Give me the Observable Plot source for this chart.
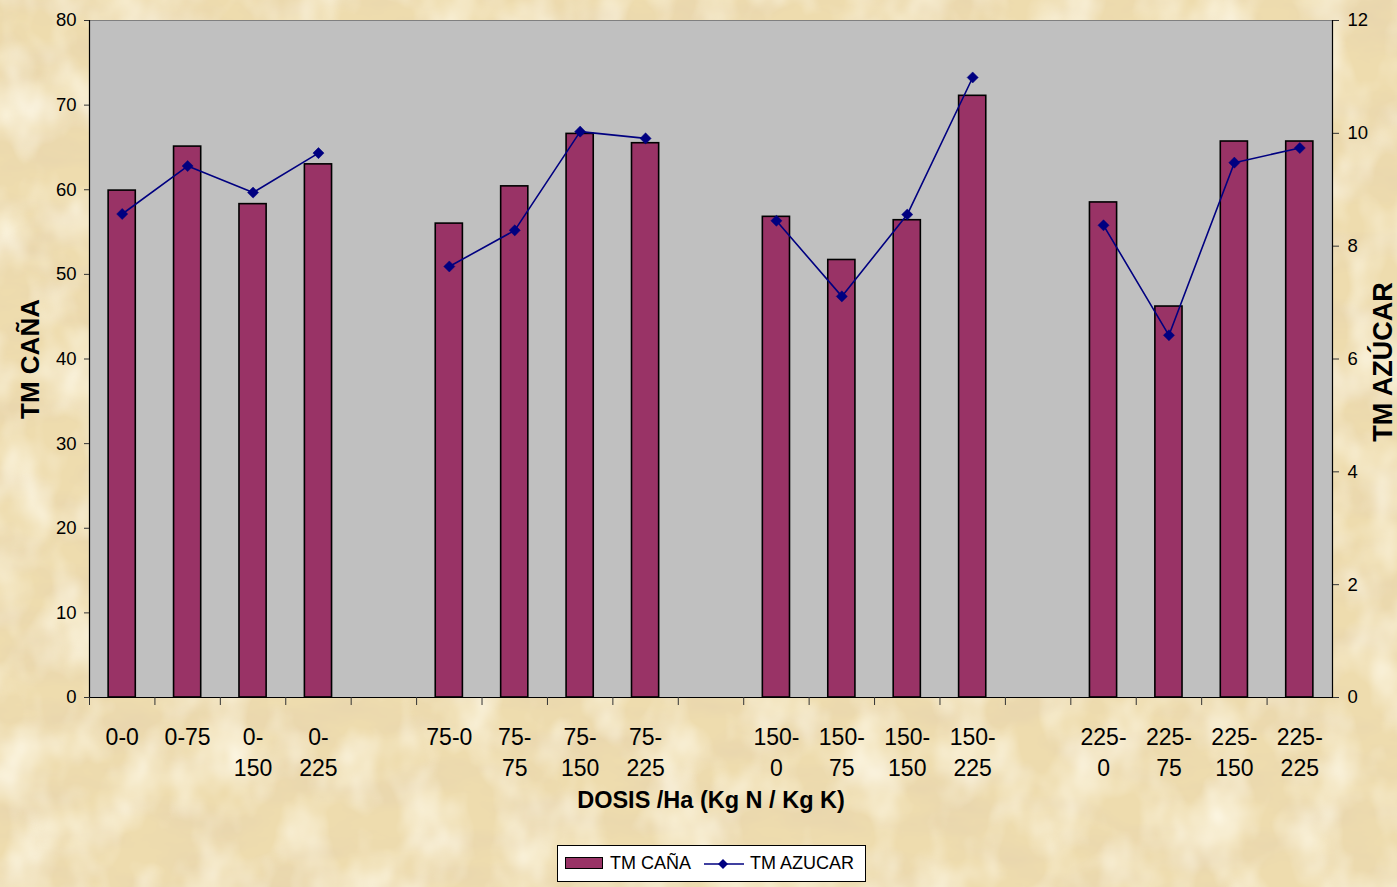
<!DOCTYPE html>
<html><head><meta charset="utf-8">
<script src="https://cdn.jsdelivr.net/npm/d3@7"></script>
<script src="https://cdn.jsdelivr.net/npm/@observablehq/plot@0.6"></script>
<style>
html,body{margin:0;padding:0;}
body{width:1397px;height:887px;position:relative;overflow:hidden;background:#EEDCAE;font-family:"Liberation Sans",Arial,sans-serif;}
#bg{position:absolute;left:0;top:0;}
#chart{position:absolute;left:0;top:0;}
#legend{position:absolute;left:557px;top:845px;width:309px;height:37px;background:#fff;border:1px solid #000;box-sizing:border-box;font-size:18px;color:#000;}
#legend .sw{position:absolute;left:7px;top:11px;width:38px;height:12px;background:#993366;border:1px solid #000;box-sizing:border-box;}
#legend .t1{position:absolute;left:52px;top:7px;}
#legend svg{position:absolute;left:146px;top:8px;}
#legend .t2{position:absolute;left:192px;top:7px;}
</style></head>
<body>
<svg id="bg" width="1397" height="887">
  <filter id="n1"><feTurbulence type="fractalNoise" baseFrequency="0.012 0.03" numOctaves="4" seed="7"/>
    <feColorMatrix type="matrix" values="0 0 0 0 0.80  0 0 0 0 0.66  0 0 0 0 0.42  1.6 0 0 0 -0.62"/></filter>
  <filter id="n2"><feTurbulence type="fractalNoise" baseFrequency="0.02 0.015" numOctaves="3" seed="2"/>
    <feColorMatrix type="matrix" values="0 0 0 0 1  0 0 0 0 0.97  0 0 0 0 0.86  1.5 0 0 0 -0.6"/></filter>
  <rect width="1397" height="887" fill="#EEDCAE"/>
  <rect width="1397" height="887" filter="url(#n1)"/>
  <rect width="1397" height="887" filter="url(#n2)"/>
</svg>
<div id="chart"></div>
<div id="legend"><div class="sw"></div><span class="t1">TM CAÑA</span>
<svg width="42" height="20"><line x1="0" y1="10" x2="40" y2="10" stroke="#000080" stroke-width="1.5"/><path d="M19,5 L24,10 L19,15 L14,10 Z" fill="#000080"/></svg>
<span class="t2">TM AZUCAR</span></div>
<script>
const categories = ["0-0","0-75","0-150","0-225","gap1","75-0","75-75","75-150","75-225","gap2","150-0","150-75","150-150","150-225","gap3","225-0","225-75","225-150","225-225"];
const tickLabels = ["0-0","0-75","0-\n150","0-\n225","","75-0","75-\n75","75-\n150","75-\n225","","150-\n0","150-\n75","150-\n150","150-\n225","","225-\n0","225-\n75","225-\n150","225-\n225"];
const groups = [1,1,1,1,0,2,2,2,2,0,3,3,3,3,0,4,4,4,4];
const tmCana = [59.9,65.1,58.3,63.0,null,56.0,60.4,66.6,65.5,null,56.8,51.7,56.4,71.1,null,58.5,46.2,65.7,65.7];
const tmAzucar = [8.57,9.42,8.95,9.65,null,7.64,8.28,10.03,9.91,null,8.45,7.11,8.56,10.99,null,8.37,6.42,9.48,9.74];
const leftTicks = [0,10,20,30,40,50,60,70,80];
const rightTicks = [0,2,4,6,8,10,12];
const rightMax = 12, leftMax = 80;

const rows = categories.map((c,i)=>({cat:c, label:tickLabels[i], g:groups[i], cana:tmCana[i], az:tmAzucar[i]})).filter(d=>d.cana!=null);
const W = 1397, H = 840, mL = 89, mR = 65, mT = 20, mB = 143;
const step = (W - mL - mR) / categories.length;
const conv = v => v * leftMax / rightMax;

const chart = Plot.plot({
  width: W, height: H,
  marginLeft: mL, marginRight: mR, marginTop: mT, marginBottom: mB,
  style: {background: "transparent", color: "#000", fontFamily: "'Liberation Sans', Arial, sans-serif", overflow: "visible"},
  x: {domain: categories, paddingInner: 0.585, paddingOuter: 0.2925, align: 0.5, round: false, axis: null},
  y: {domain: [0, leftMax], axis: null},
  marks: [
    Plot.frame({fill: "#C0C0C0", stroke: "#808080"}),
    Plot.barY(rows, {x: "cat", y: "cana", fill: "#993366", stroke: "#000", strokeWidth: 1.6}),
    Plot.line(rows, {x: "cat", y: d => conv(d.az), z: "g", stroke: "#000080", strokeWidth: 1.6}),
    Plot.dot(rows, {x: "cat", y: d => conv(d.az), symbol: "diamond2", r: 5, fill: "#000080", stroke: "#000080", strokeWidth: 0.5}),
    Plot.ruleY([0], {stroke: "#000", strokeWidth: 1.2}),
    Plot.frame({anchor: "left", stroke: "#000", strokeWidth: 1.2}),
    Plot.frame({anchor: "right", stroke: "#000", strokeWidth: 1.2}),
    Plot.axisX({ticks: categories, tickSize: 8, tickFormat: () => "", label: null, dx: -step/2, stroke: "#333"}),
    Plot.text(rows, {x: "cat", y: () => 0, text: "label", frameAnchor: "bottom", lineAnchor: "top", dy: 25, lineHeight: 1.35, fontSize: 23, fill: "#000"}),
    Plot.axisY({ticks: leftTicks, tickSize: 5, tickPadding: 8, fontSize: 18.5, label: null, stroke: "#333"}),
    Plot.axisY({anchor: "right", ticks: rightTicks.map(conv), tickFormat: d => String(Math.round(d * rightMax / leftMax)), tickSize: 6, tickPadding: 9, fontSize: 18.5, label: null, stroke: "#333"}),
    Plot.text(["TM CAÑA"], {frameAnchor: "left", textAnchor: "middle", rotate: -90, dx: -59, fontSize: 26, fontWeight: "bold", fill: "#000"}),
    Plot.text(["TM AZÚCAR"], {frameAnchor: "right", textAnchor: "middle", rotate: -90, dx: 51, dy: 3, fontSize: 27, fontWeight: "bold", fill: "#000"}),
    Plot.text(["DOSIS /Ha (Kg N / Kg K)"], {frameAnchor: "bottom", dy: 110, fontSize: 23.5, fontWeight: "bold", fill: "#000"})
  ]
});
document.getElementById("chart").appendChild(chart);
</script>
</body></html>
